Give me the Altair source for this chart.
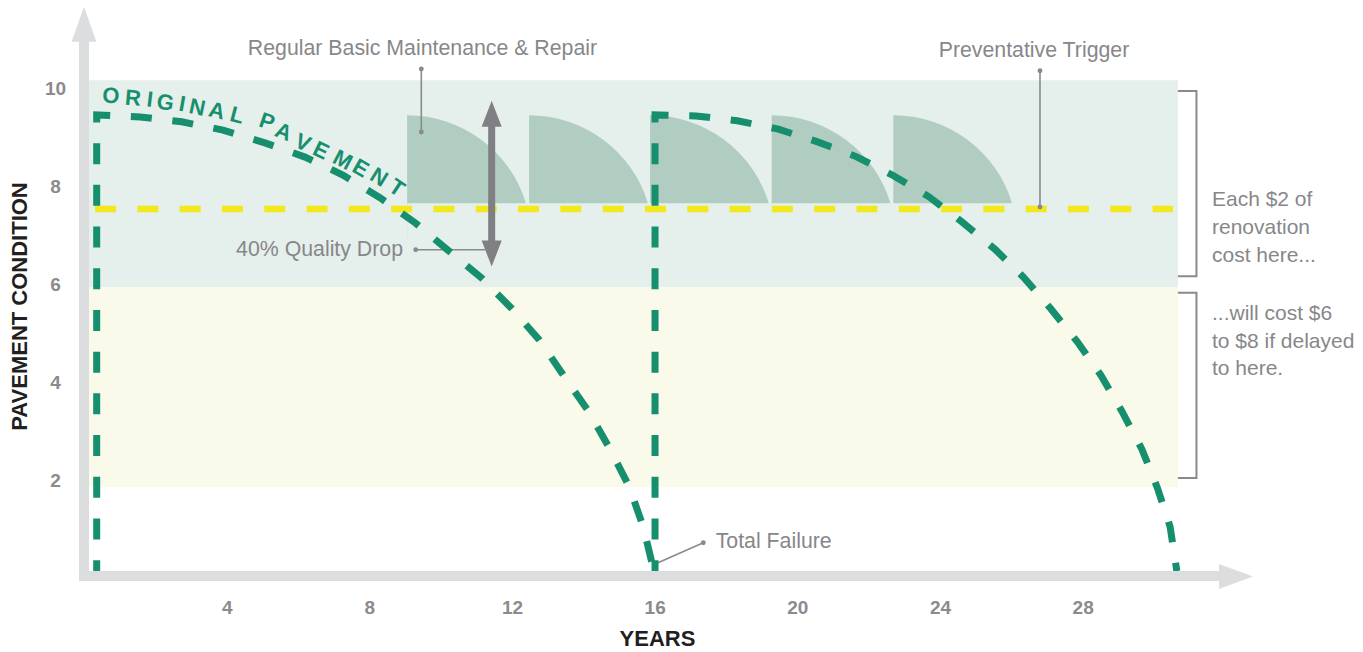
import altair as alt
import pandas as pd

# ---------------- values ----------------
X_TICKS = [4, 8, 12, 16, 20, 24, 28]
Y_TICKS = [2, 4, 6, 8, 10]

# original pavement: vertical start, then deterioration curve (year, condition)
ORIG_YEAR = [0.356, 0.356, 1.570, 2.739, 3.897, 5.075, 6.197, 7.270, 8.319, 9.300,
             10.205, 11.150, 11.991, 12.765, 13.466, 14.139, 14.747, 15.289, 15.681, 15.980]
ORIG_COND = [0.14, 9.45, 9.41, 9.31, 9.14, 8.88, 8.59, 8.22, 7.75, 7.24,
             6.69, 6.12, 5.50, 4.86, 4.11, 3.41, 2.63, 1.86, 1.04, 0.14]
# reconstructed pavement after total failure
NEW_YEAR = [16.01, 16.01, 17.16, 18.32, 19.47, 20.57, 21.65, 22.70, 23.69, 24.61,
            25.54, 26.34, 27.10, 27.85, 28.51, 29.11, 29.66, 30.10, 30.45, 30.64]
NEW_COND = [0.14, 9.45, 9.43, 9.33, 9.16, 8.90, 8.60, 8.21, 7.78, 7.27,
            6.71, 6.14, 5.50, 4.82, 4.14, 3.39, 2.63, 1.83, 1.05, 0.14]

# preventative trigger level
TRIGGER_COND = 7.53
TRIGGER_FROM = 0.31
TRIGGER_TO = 30.53

# condition bands
BAND_X = [0.0, 0.0]
BAND_X2 = [30.67, 30.67]
BAND_LOW = [5.94, 1.85]
BAND_HIGH = [10.16, 5.94]

# regular basic maintenance treatments (start year), top / base condition
TREAT_YEAR = [9.06, 12.48, 15.87, 19.28, 22.69]
TREAT_TOP = 9.45
TREAT_BASE = 7.65
TREAT_CENTER = 6.91  # centre of the treatment arcs

# 40% quality drop arrow
DROP_YEAR = 11.43
DROP_TOP = 9.475
DROP_BOTTOM = 6.62

# brackets on the right (year, condition)
BR_YEAR = [30.67, 31.19, 31.19, 30.67]
BR1_COND = [9.94, 9.94, 6.16, 6.16]
BR2_COND = [5.82, 5.82, 2.04, 2.04]

# leader lines (x, y -> x2, y2) and their dots
LEAD_X = [9.457, 26.803, 9.30, 17.363]
LEAD_Y = [10.388, 10.353, 6.70, 0.720]
LEAD_X2 = [9.457, 26.803, 11.30, 16.093]
LEAD_Y2 = [9.102, 7.571, 6.70, 0.312]
DOT_X = [9.457, 9.457, 26.803, 26.803, 9.30, 17.363]
DOT_Y = [10.388, 9.102, 10.353, 7.571, 6.70, 0.720]

# annotation texts
TOP_LABELS = ["Regular Basic Maintenance & Repair", "Preventative Trigger"]
TOP_X = [9.49, 26.635]
TOP_Y = [10.673, 10.633]
DROP_LABEL = ["40% Quality Drop"]
DROP_LX = [8.944]
DROP_LY = [6.571]
FAIL_LABEL = ["Total Failure"]
FAIL_X = [17.71]
FAIL_Y = [0.618]
NOTE_LABELS = ["Each $2 of", "renovation", "cost here...",
               "...will cost $6", "to $8 if delayed", "to here."]
NOTE_X = [31.625, 31.625, 31.625, 31.625, 31.625, 31.625]
NOTE_Y = [7.598, 7.020, 6.449, 5.265, 4.694, 4.133]

# curved "ORIGINAL PAVEMENT" lettering
LETTERS = list("ORIGINALPAVEMENT")
LETTER_X = [0.757, 1.374, 1.850, 2.279, 2.756, 3.177, 3.721, 4.290,
            5.131, 5.596, 6.132, 6.645, 7.253, 7.758, 8.271, 8.767]
LETTER_Y = [9.84, 9.79, 9.76, 9.70, 9.67, 9.60, 9.53, 9.44,
            9.31, 9.10, 8.88, 8.72, 8.53, 8.36, 8.18, 7.96]
LETTER_ANGLE = [3, 5, 7, 9, 10, 12, 13, 15, 19, 22, 24, 26, 28, 30, 32, 34]

# ---------------- styling ----------------
FONT = "Liberation Sans"
GREEN = "#168F6E"
YELLOW = "#F2E81C"
GRAY_TXT = "#87878A"
GRAY_LINE = "#8A8A8D"
AXIS_GRAY = "#DCDDDF"
BAND_G = "#E5EFEB"
BAND_Y = "#F9FAEA"
SHAPE = "#B1CDC2"
ARROW = "#808084"
DARK = "#231F20"
LABEL_SIZE = 21.3
NOTE_SIZE = 21

PX_X = 35.667
PX_Y = 49.0
W, H = 1169, 568
X_MAX = W / PX_X
Y_MAX = H / PX_Y

xs = alt.Scale(domain=[0, X_MAX], nice=False, zero=False)
ys = alt.Scale(domain=[0, Y_MAX], nice=False, zero=False)

x_axis = alt.Axis(values=X_TICKS, title="YEARS", domain=False, ticks=False, tickSize=0,
                  grid=False, labelPadding=29, labelBaseline="middle", labelAlign="center",
                  labelFont=FONT, labelFontSize=19, labelFontWeight="bold",
                  labelColor="#8B8B8E", labelFlush=False,
                  titleFont=FONT, titleFontSize=22, titleFontWeight="bold", titleColor=DARK,
                  titleX=573, titleY=67, titleAlign="center", titleBaseline="alphabetic")
y_axis = alt.Axis(values=Y_TICKS, title="PAVEMENT CONDITION", domain=False, ticks=False,
                  tickSize=0, grid=False, labelPadding=29, labelBaseline="middle",
                  labelAlign="center", labelFont=FONT, labelFontSize=19,
                  labelFontWeight="bold", labelColor="#8B8B8E", labelFlush=False,
                  titleFont=FONT, titleFontSize=22, titleFontWeight="bold", titleColor=DARK,
                  titleAngle=270, titleX=-64.5, titleY=296, titleAlign="center",
                  titleBaseline="middle")


def X(f="x"):
    return alt.X(f"{f}:Q", scale=xs, axis=x_axis)


def Y(f="y"):
    return alt.Y(f"{f}:Q", scale=ys, axis=y_axis)


# ---------------- tables ----------------
bands_df = pd.DataFrame({"x": BAND_X, "x2": BAND_X2, "y": BAND_LOW, "y2": BAND_HIGH,
                         "c": [BAND_G, BAND_Y]})
treat_df = pd.DataFrame({"x": TREAT_YEAR, "y": [TREAT_CENTER] * len(TREAT_YEAR)})
cover_df = pd.DataFrame({"x": [TREAT_YEAR[0]], "x2": [TREAT_YEAR[-1] + 3.4],
                         "y": [TREAT_CENTER - 0.1], "y2": [TREAT_BASE]})
trig_df = pd.DataFrame({"x": [TRIGGER_FROM], "x2": [TRIGGER_TO], "y": [TRIGGER_COND]})
shaft_df = pd.DataFrame({"x": [DROP_YEAR], "y": [DROP_TOP - 0.2], "y2": [DROP_BOTTOM + 0.2]})
head_up_df = pd.DataFrame({"x": [DROP_YEAR], "y": [DROP_TOP]})
head_dn_df = pd.DataFrame({"x": [DROP_YEAR], "y": [DROP_BOTTOM]})

path_rows = []
for seg, (xx, yy) in enumerate([(ORIG_YEAR, ORIG_COND), (NEW_YEAR, NEW_COND)]):
    for i, (a, b) in enumerate(zip(xx, yy)):
        path_rows.append({"seg": seg, "i": i, "x": a, "y": b})
path_df = pd.DataFrame(path_rows)

br_rows = []
for g, cc in enumerate([BR1_COND, BR2_COND]):
    for i, (a, b) in enumerate(zip(BR_YEAR, cc)):
        br_rows.append({"g": g, "i": i, "x": a, "y": b})
br_df = pd.DataFrame(br_rows)

lead_df = pd.DataFrame({"x": LEAD_X, "y": LEAD_Y, "x2": LEAD_X2, "y2": LEAD_Y2})
dot_df = pd.DataFrame({"x": DOT_X, "y": DOT_Y})

axis_bar_df = pd.DataFrame({"x": [0.0, -0.14], "x2": [0.0, 31.9],
                            "y": [-0.061, 0.041], "y2": [11.1, 0.041]})
axis_up_df = pd.DataFrame({"x": [0.0], "y": [11.30]})
axis_right_df = pd.DataFrame({"x": [32.30], "y": [0.031]})

top_df = pd.DataFrame({"x": TOP_X, "y": TOP_Y, "t": TOP_LABELS})
drop_df = pd.DataFrame({"x": DROP_LX, "y": DROP_LY, "t": DROP_LABEL})
fail_df = pd.DataFrame({"x": FAIL_X, "y": FAIL_Y, "t": FAIL_LABEL})
note_df = pd.DataFrame({"x": NOTE_X, "y": NOTE_Y, "t": NOTE_LABELS})
letters_df = pd.DataFrame({"x": LETTER_X, "y": LETTER_Y, "t": LETTERS, "a": LETTER_ANGLE})

UP = "M0,-1L0.72,1L-0.72,1Z"
RIGHT = "M1,0L-1,0.735L-1,-0.735Z"
HEAD_UP = "M0,-1L0.77,1L-0.77,1Z"
HEAD_DN = "M0,1L0.77,-1L-0.77,-1Z"

# ---------------- layers ----------------
bands = alt.Chart(bands_df).mark_rect().encode(
    X("x"), alt.X2("x2"), Y("y"), alt.Y2("y2"), color=alt.Color("c:N", scale=None))

wedges = alt.Chart(treat_df).mark_arc(radius=124.2, theta=0, theta2=1.2724,
                                      color=SHAPE).encode(X("x"), Y("y"))
cover = alt.Chart(cover_df).mark_rect(color=BAND_G).encode(
    X("x"), alt.X2("x2"), Y("y"), alt.Y2("y2"))

trigger = alt.Chart(trig_df).mark_rule(color=YELLOW, strokeWidth=6.5,
                                       strokeDash=[21, 21.3], strokeCap="butt").encode(
    X("x"), alt.X2("x2"), Y("y"))

shaft = alt.Chart(shaft_df).mark_rule(color=ARROW, strokeWidth=7, strokeCap="butt").encode(
    X("x"), Y("y"), alt.Y2("y2"))
head_up = alt.Chart(head_up_df).mark_point(shape=HEAD_UP, size=676, filled=True, opacity=1,
                                           color=ARROW, strokeWidth=0).encode(X("x"), Y("y"))
head_dn = alt.Chart(head_dn_df).mark_point(shape=HEAD_DN, size=676, filled=True, opacity=1,
                                           color=ARROW, strokeWidth=0).encode(X("x"), Y("y"))

leads = alt.Chart(lead_df).mark_rule(color=GRAY_LINE, strokeWidth=1.6).encode(
    X("x"), alt.X2("x2"), Y("y"), alt.Y2("y2"))
dots = alt.Chart(dot_df).mark_circle(color=GRAY_LINE, size=24, opacity=1).encode(
    X("x"), Y("y"))

brackets = alt.Chart(br_df).mark_line(color=GRAY_LINE, strokeWidth=2, strokeJoin="miter").encode(
    X("x"), Y("y"), detail="g:N", order="i:Q")

paths = alt.Chart(path_df).mark_line(color=GREEN, strokeWidth=7, strokeDash=[21, 20.7],
                                     strokeDashOffset=10, strokeCap="butt",
                                     strokeJoin="miter").encode(
    X("x"), Y("y"), detail="seg:N", order="i:Q")

axis_bars = alt.Chart(axis_bar_df).mark_rule(color=AXIS_GRAY, strokeWidth=10,
                                             strokeCap="butt").encode(
    X("x"), alt.X2("x2"), Y("y"), alt.Y2("y2"))
axis_up = alt.Chart(axis_up_df).mark_point(shape=UP, size=1204, filled=True, opacity=1,
                                           color=AXIS_GRAY, strokeWidth=0).encode(X("x"), Y("y"))
axis_right = alt.Chart(axis_right_df).mark_point(shape=RIGHT, size=1156, filled=True,
                                                 opacity=1, color=AXIS_GRAY,
                                                 strokeWidth=0).encode(X("x"), Y("y"))


def text_layer(df, size, align):
    return alt.Chart(df).mark_text(font=FONT, fontSize=size, color=GRAY_TXT, align=align,
                                   baseline="alphabetic").encode(X("x"), Y("y"), text="t:N")


top_txt = text_layer(top_df, LABEL_SIZE, "center")
drop_txt = text_layer(drop_df, LABEL_SIZE, "right")
fail_txt = text_layer(fail_df, LABEL_SIZE, "left")
note_txt = text_layer(note_df, NOTE_SIZE, "left")
letters = alt.Chart(letters_df).mark_text(font=FONT, fontSize=22, fontWeight="bold", color=GREEN,
                                          align="center", baseline="middle").encode(
    X("x"), Y("y"), text="t:N", angle=alt.Angle("a:Q", scale=None))

chart = alt.layer(
    bands, wedges, cover, trigger, shaft, head_up, head_dn, leads, dots, brackets,
    paths, axis_bars, axis_up, axis_right, top_txt, drop_txt, fail_txt, note_txt, letters
).properties(
    width=W, height=H,
    autosize=alt.AutoSizeParams(type="none"),
    padding={"left": 76, "top": 2, "right": 102, "bottom": 72},
).configure_view(stroke=None)

chart.save("out.html", embed_options={"renderer": "svg", "actions": False})
